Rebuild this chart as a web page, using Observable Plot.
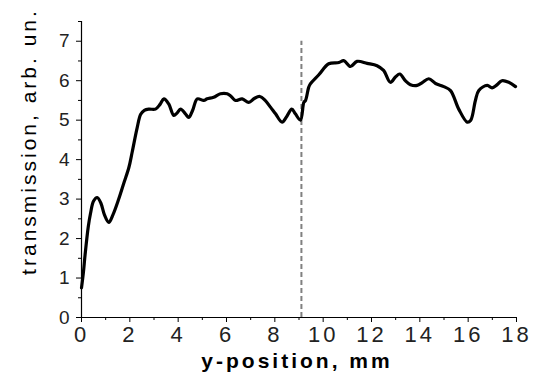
<!DOCTYPE html>
<html>
<head>
<meta charset="utf-8">
<script src="https://cdn.jsdelivr.net/npm/d3@7"></script>
<script src="https://cdn.jsdelivr.net/npm/@observablehq/plot@0.6"></script>
<style>
  html, body { margin: 0; padding: 0; background: #fff; }
  svg { font-family: "Liberation Sans", Arial, sans-serif; }
</style>
</head>
<body>
<div id="chart"></div>
<script>
// position along y, mm
const posMm = [0, 0.08, 0.15, 0.28, 0.37, 0.5, 0.65, 0.8, 0.95, 1.13, 1.3, 1.54, 1.75, 1.96, 2.1, 2.3, 2.45, 2.6, 2.79, 3.06, 3.25, 3.41, 3.61, 3.82, 3.95, 4.1, 4.3, 4.44, 4.6, 4.79, 5.06, 5.2, 5.47, 5.75, 6.03, 6.16, 6.37, 6.65, 6.92, 7.15, 7.38, 7.6, 7.82, 8.03, 8.3, 8.5, 8.7, 8.85, 9.06, 9.2, 9.27, 9.4, 9.47, 9.82, 10.23, 10.65, 10.85, 11.13, 11.4, 11.82, 12.23, 12.5, 12.78, 13.0, 13.17, 13.4, 13.61, 13.89, 14.1, 14.37, 14.65, 14.99, 15.27, 15.61, 15.96, 16.1, 16.3, 16.44, 16.79, 16.99, 17.2, 17.4, 17.68, 17.96];
// transmission, arb. un.
const transmission = [0.75, 1.15, 1.6, 2.3, 2.63, 2.95, 3.04, 2.9, 2.6, 2.41, 2.6, 3.0, 3.4, 3.8, 4.2, 4.8, 5.15, 5.25, 5.28, 5.28, 5.4, 5.54, 5.41, 5.12, 5.18, 5.28, 5.16, 5.07, 5.25, 5.54, 5.5, 5.54, 5.58, 5.67, 5.67, 5.62, 5.5, 5.54, 5.45, 5.55, 5.6, 5.5, 5.33, 5.16, 4.95, 5.1, 5.28, 5.16, 5.0, 5.45, 5.5, 5.83, 5.92, 6.15, 6.43, 6.46, 6.51, 6.36, 6.49, 6.44, 6.38, 6.26, 5.96, 6.1, 6.17, 6.0, 5.9, 5.88, 5.95, 6.05, 5.93, 5.85, 5.75, 5.28, 4.95, 4.99, 5.5, 5.75, 5.88, 5.82, 5.9, 6.0, 5.96, 5.85];
const markerPos = [9.1];
const xTicks = [0, 2, 4, 6, 8, 10, 12, 14, 16, 18];
const xMinor = [1, 3, 5, 7, 9, 11, 13, 15, 17];
const yTicks = [0, 1, 2, 3, 4, 5, 6, 7];
const yMinor = [0.5, 1.5, 2.5, 3.5, 4.5, 5.5, 6.5, 7.5];
const xTitle = "y-position, mm";
const yTitle = "transmission, arb. un.";

const data = posMm.map((x, i) => ({x, y: transmission[i]}));

const chart = Plot.plot({
  width: 536,
  height: 383,
  marginLeft: 81,
  marginRight: 20,
  marginTop: 21,
  marginBottom: 66,
  x: {domain: [0, 18]},
  y: {domain: [0, 7.5]},
  marks: [
    Plot.axisY({ticks: yMinor, tickSize: 3, text: null, label: null}),
    Plot.axisY({ticks: yTicks, tickSize: 5, tickPadding: 5, fontSize: 19, label: null, fill: "#222"}),
    Plot.axisX({ticks: xMinor, tickSize: 3, text: null, label: null}),
    Plot.axisX({ticks: xTicks, tickSize: 5, tickPadding: 4, fontSize: 22, label: null, fill: "#222"}),
    Plot.ruleX([{x: 0, y1: 0, y2: 7.5}], {x: "x", y1: "y1", y2: "y2", stroke: "black", strokeWidth: 1.2}),
    Plot.ruleY([0], {stroke: "black", strokeWidth: 1.2}),
    Plot.ruleX(markerPos, {y1: () => 0, y2: () => 7.0, stroke: "#808080", strokeWidth: 2, strokeDasharray: "5,3"}),
    Plot.line(data, {x: "x", y: "y", stroke: "black", strokeWidth: 3.2, strokeLinejoin: "round", curve: "catmull-rom"}),
    Plot.text([xTitle], {frameAnchor: "bottom", dy: 50, dx: -2, text: d => d, fontSize: 21, fontWeight: "bold", fill: "black"}),
    Plot.text([yTitle], {frameAnchor: "left", textAnchor: "middle", dx: -52, dy: -28, rotate: -90, text: d => d, fontSize: 21, fill: "black"})
  ]
});
document.getElementById("chart").appendChild(chart);
d3.select(chart).selectAll('g[aria-label="x-axis tick label"] text').style("letter-spacing", "3px");
d3.select(chart).selectAll('g[aria-label="y-axis tick label"] text').style("letter-spacing", "2px");
d3.select(chart).selectAll('g[aria-label="text"] text').style("letter-spacing", "3px");
</script>
</body>
</html>
